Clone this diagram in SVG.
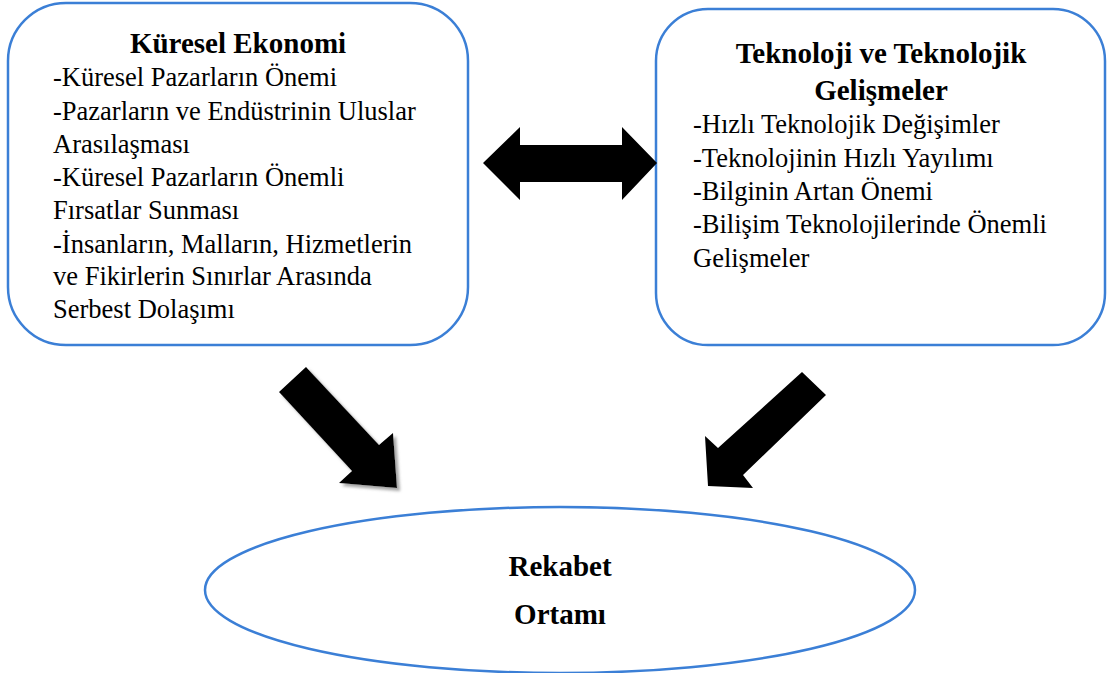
<svg xmlns="http://www.w3.org/2000/svg" width="1109" height="673" viewBox="0 0 1109 673">
  <style>
    .box { fill: #ffffff; stroke: #3b7fd6; stroke-width: 2.5; }
    .title { font-family: "Liberation Serif", "Times New Roman", serif; font-weight: bold; font-size: 29px; fill: #000; }
    .item { font-family: "Liberation Serif", "Times New Roman", serif; font-size: 26.5px; fill: #000; }
    .arrow { fill: #000; }
  </style>
  <defs>
    <filter id="shade" x="-20%" y="-20%" width="150%" height="150%">
      <feDropShadow dx="3" dy="3" stdDeviation="1.5" flood-color="#8c8c8c" flood-opacity="0.8"/>
    </filter>
  </defs>

  <rect width="1109" height="673" fill="#ffffff"/>

  <!-- Global economy box -->
  <g id="kuresel-ekonomi">
    <rect class="box" x="8" y="3" width="460" height="342" rx="58" ry="58"/>
    <text class="title" x="238" y="53" text-anchor="middle">Küresel Ekonomi</text>
    <text class="item" x="53" y="86">-Küresel Pazarların Önemi</text>
    <text class="item" x="53" y="120">-Pazarların ve Endüstrinin Uluslar</text>
    <text class="item" x="53" y="153">Arasılaşması</text>
    <text class="item" x="53" y="186">-Küresel Pazarların Önemli</text>
    <text class="item" x="53" y="219">Fırsatlar Sunması</text>
    <text class="item" x="53" y="253">-İnsanların, Malların, Hizmetlerin</text>
    <text class="item" x="53" y="285">ve Fikirlerin Sınırlar Arasında</text>
    <text class="item" x="53" y="318">Serbest Dolaşımı</text>
  </g>

  <!-- Technology box -->
  <g id="teknoloji">
    <rect class="box" x="656" y="9" width="449" height="336" rx="52" ry="52"/>
    <text class="title" x="881" y="63" text-anchor="middle">Teknoloji ve Teknolojik</text>
    <text class="title" x="881" y="100" text-anchor="middle">Gelişmeler</text>
    <text class="item" x="693" y="133">-Hızlı Teknolojik Değişimler</text>
    <text class="item" x="693" y="167">-Teknolojinin Hızlı Yayılımı</text>
    <text class="item" x="693" y="200">-Bilginin Artan Önemi</text>
    <text class="item" x="693" y="233">-Bilişim Teknolojilerinde Önemli</text>
    <text class="item" x="693" y="267">Gelişmeler</text>
  </g>

  <!-- Competitive environment ellipse -->
  <g id="rekabet-ortami">
    <ellipse class="box" cx="560" cy="590" rx="355" ry="83"/>
    <text class="title" x="560" y="576" text-anchor="middle" font-size="28">Rekabet</text>
    <text class="title" x="560" y="624" text-anchor="middle" font-size="28">Ortamı</text>
  </g>

  <!-- Block arrows -->
  <g id="connectors">
    <polygon class="arrow" points="483,163 520,127 520,145 622,145 622,127 657,163 622,200 622,182 520,182 520,200"/>
    <polygon class="arrow" filter="url(#shade)" points="306,367 379,445 393,433 397,488 339,483 352,471 279,392"/>
    <polygon class="arrow" points="802,372 826,395 743,475 753,488 708,486 705,436 718,448"/>
  </g>
</svg>
